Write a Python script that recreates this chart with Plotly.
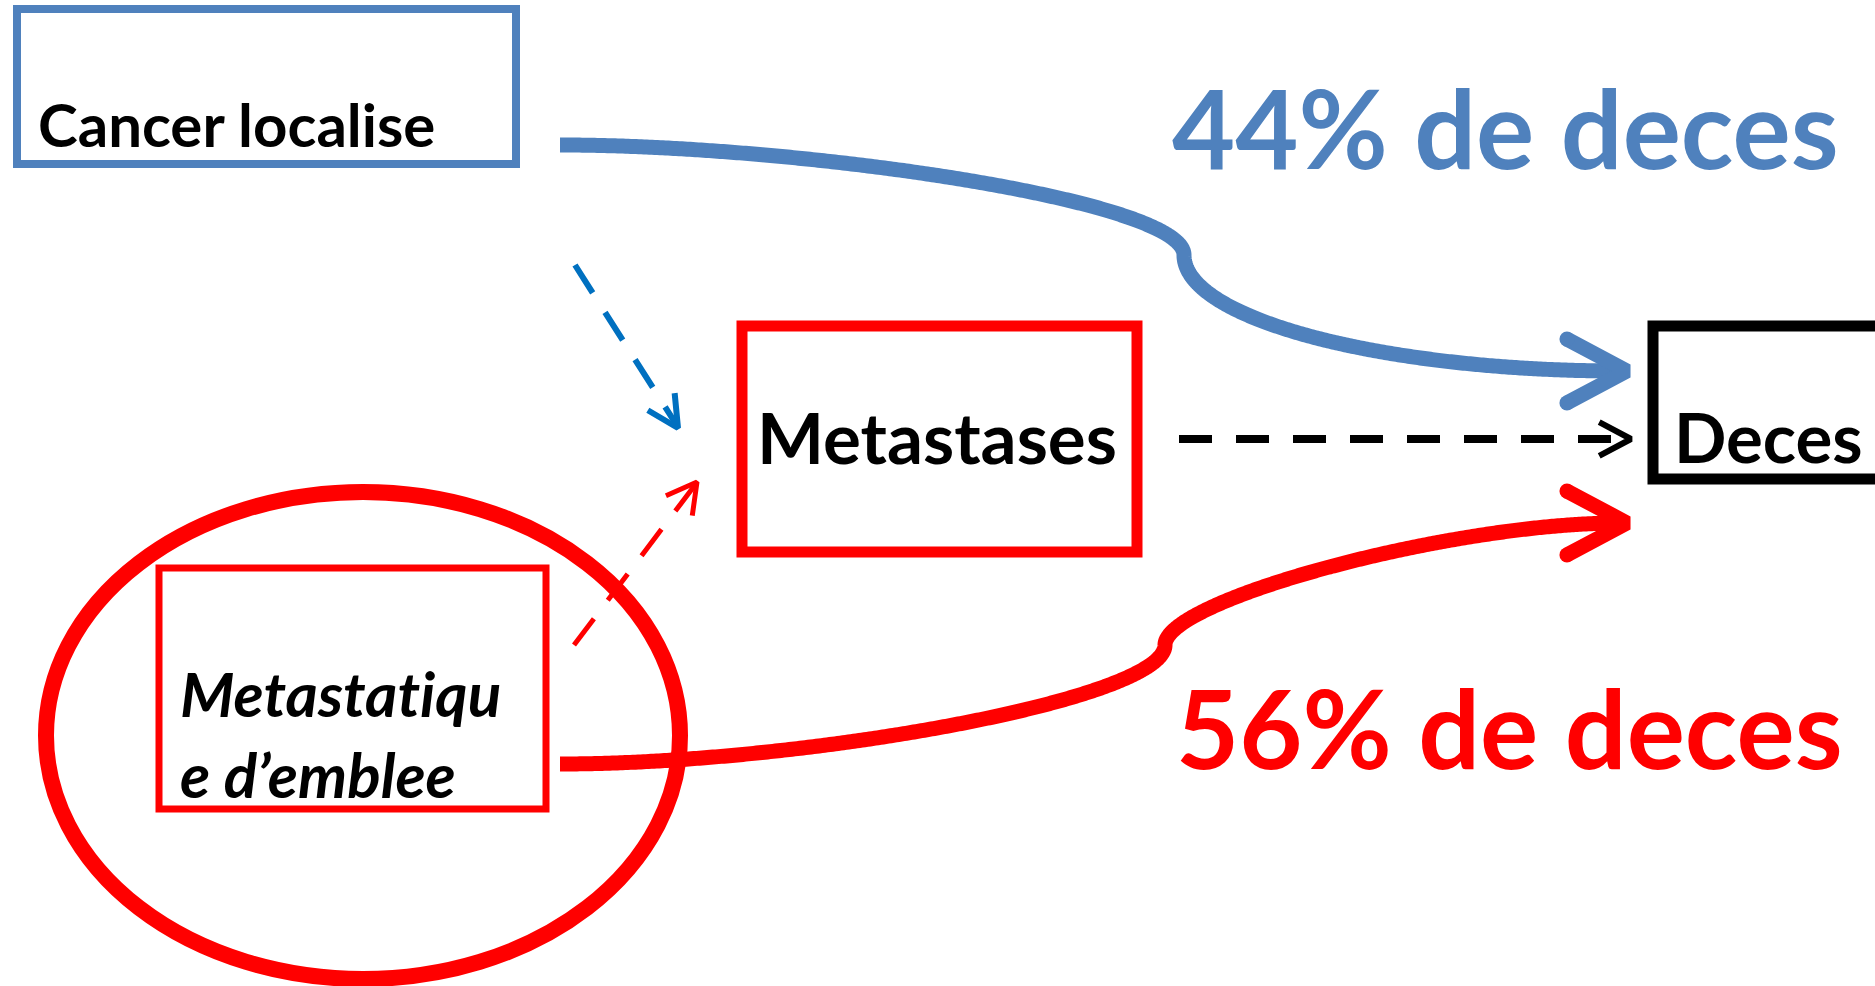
import numpy as np
import plotly.graph_objects as go

W, H = 1875, 986

# ---- content ----
node_labels = ["Cancer localise", "Metasta\u200ct\u200ciqu<br>e d’emblee", "Metastases", "Deces"]
death_pct = [44, 56]          # % deaths: localised, metastatic at diagnosis
pct_suffix = "% de deces"

BLUE = "#4F81BD"
RED = "#FF0000"
DBLUE = "#0070C0"
BLACK = "#000000"
FONT = "Lato"

# ---- geometry (pixel space, y downwards) ----
boxes = {
    "loc":  dict(x0=17, x1=516, y0=9, y1=164, color=BLUE, w=8),
    "meta": dict(x0=742, x1=1137, y0=326, y1=552, color=RED, w=11),
    "dec":  dict(x0=1653, x1=1895, y0=326, y1=479, color=BLACK, w=11),
    "emb":  dict(x0=159, x1=546, y0=568, y1=809, color=RED, w=7),
}
ellipse = dict(x0=46, x1=680, y0=492, y1=979, color=RED, w=16)


def bezier(p0, p1, p2, p3, n=300):
    t = np.linspace(0, 1, n)[:, None]
    p0, p1, p2, p3 = map(np.array, (p0, p1, p2, p3))
    pts = ((1 - t) ** 3) * p0 + 3 * ((1 - t) ** 2) * t * p1 + 3 * (1 - t) * t ** 2 * p2 + t ** 3 * p3
    return pts[:, 0], pts[:, 1]


def head(tip, back_angle_deg, length, half_angle_deg):
    a1 = np.radians(back_angle_deg - half_angle_deg)
    a2 = np.radians(back_angle_deg + half_angle_deg)
    return ([tip[0] + length * np.cos(a1), tip[0], tip[0] + length * np.cos(a2)],
            [tip[1] + length * np.sin(a1), tip[1], tip[1] + length * np.sin(a2)])


fig = go.Figure()


def add_line(xs, ys, color, width, dash="solid", caps=False):
    fig.add_trace(go.Scatter(x=list(xs), y=list(ys), mode="lines",
                             line=dict(color=color, width=width, dash=dash, simplify=False),
                             hoverinfo="skip", showlegend=False))
    if caps:
        fig.add_trace(go.Scatter(x=[xs[0], xs[-1]], y=[ys[0], ys[-1]], mode="markers",
                                 marker=dict(color=color, size=width, line=dict(width=0)),
                                 hoverinfo="skip", showlegend=False))


THICK = 15

# blue thick curve (localised -> death)
bx1, by1 = bezier((560, 145), (800, 145), (1184, 200), (1184, 255))
bx2, by2 = bezier((1184, 255), (1184, 319), (1382, 371), (1620, 371))
add_line(np.r_[bx1, bx2[1:]], np.r_[by1, by2[1:]], BLUE, THICK)
hx, hy = head((1627, 371), 180, 68, 28)
add_line(hx, hy, BLUE, THICK, caps=True)

# red thick curve (metastatic -> death)
rx1, ry1 = bezier((560, 764), (800, 764), (1165, 700), (1165, 645))
rx2, ry2 = bezier((1165, 645), (1165, 600), (1450, 523), (1620, 523))
add_line(np.r_[rx1, rx2[1:]], np.r_[ry1, ry2[1:]], RED, THICK)
hx, hy = head((1627, 523), 180, 68, 28)
add_line(hx, hy, RED, THICK, caps=True)

# dashed arrows
add_line([575, 676], [265, 424], DBLUE, 6, dash="33px,23px")
hx, hy = head((678, 428), 237.5, 35, 27)
add_line(hx, hy, DBLUE, 6)

add_line([574, 695], [645, 485], RED, 5, dash="33px,23px")
hx, hy = head((697, 482), 127, 34, 29)
add_line(hx, hy, RED, 5)

add_line([1179, 1628], [439, 439], BLACK, 8, dash="33px,24px")
hx, hy = head((1631, 439), 180, 36, 28)
add_line(hx, hy, BLACK, 6)

# shapes
shapes = []
for b in boxes.values():
    shapes.append(dict(type="rect", xref="x", yref="y", x0=b["x0"], x1=b["x1"], y0=b["y0"], y1=b["y1"],
                       line=dict(color=b["color"], width=b["w"]), fillcolor="rgba(0,0,0,0)", layer="above"))
shapes.append(dict(type="circle", xref="x", yref="y", x0=ellipse["x0"], x1=ellipse["x1"],
                   y0=ellipse["y0"], y1=ellipse["y1"],
                   line=dict(color=ellipse["color"], width=ellipse["w"]), fillcolor="rgba(0,0,0,0)", layer="above"))

# texts
annotations = [
    dict(x=36, y=124, text="<b>%s</b>" % node_labels[0], xanchor="left", yanchor="middle",
         font=dict(family=FONT, size=60, color=BLACK)),
    dict(x=178, y=733, text="<b><i>%s</i></b>" % node_labels[1], xanchor="left", yanchor="middle",
         font=dict(family=FONT, size=62, color=BLACK), align="left"),
    dict(x=937, y=436, text="<b>%s</b>" % node_labels[2], xanchor="center", yanchor="middle",
         font=dict(family=FONT, size=71, color=BLACK)),
    dict(x=1672, y=436, text="<b>%s</b>" % node_labels[3], xanchor="left", yanchor="middle",
         font=dict(family=FONT, size=69, color=BLACK)),
    dict(x=1170, y=126, text="<b>%d%s</b>" % (death_pct[0], pct_suffix), xanchor="left", yanchor="middle",
         font=dict(family=FONT, size=109, color=BLUE)),
    dict(x=1174, y=726, text="<b>%d%s</b>" % (death_pct[1], pct_suffix), xanchor="left", yanchor="middle",
         font=dict(family=FONT, size=109, color=RED)),
]
for a in annotations:
    a.update(xref="x", yref="y", showarrow=False)

fig.update_layout(
    width=W, height=H, margin=dict(l=0, r=0, t=0, b=0),
    plot_bgcolor="white", paper_bgcolor="white",
    xaxis=dict(range=[0, W], visible=False, fixedrange=True),
    yaxis=dict(range=[H, 0], visible=False, fixedrange=True),
    shapes=shapes, annotations=annotations, showlegend=False,
)

fig.write_html("out.html", config={"displayModeBar": False},
               post_script="document.body.style.margin='0';document.body.style.overflow='hidden';")
